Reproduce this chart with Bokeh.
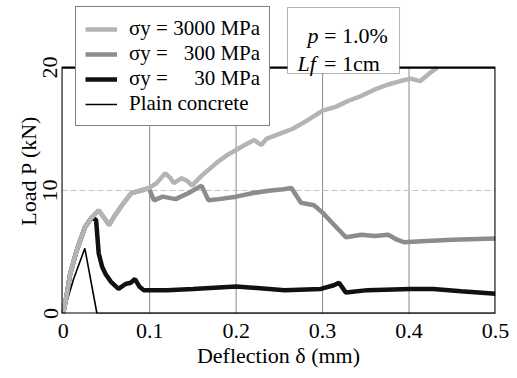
from bokeh.plotting import figure
from bokeh.models import Legend, LegendItem, Label, BoxAnnotation, FixedTicker
from bokeh.embed import file_html
from bokeh.resources import INLINE

# ---- data ----
d3000 = [0, 0.004, 0.008, 0.015, 0.025, 0.033, 0.041, 0.047, 0.053, 0.060, 0.070, 0.079, 0.090, 0.099,
         0.108, 0.118, 0.124, 0.128, 0.137, 0.143, 0.149, 0.160, 0.170, 0.180, 0.190, 0.200, 0.210,
         0.221, 0.229, 0.235, 0.250, 0.265, 0.280, 0.300, 0.315, 0.330, 0.345, 0.360, 0.375, 0.390,
         0.402, 0.413, 0.425, 0.433]
p3000 = [0, 1.5, 3.2, 5.0, 7.0, 7.8, 8.4, 7.8, 7.2, 8.0, 9.0, 9.8, 10.0, 10.2,
         10.6, 11.4, 11.0, 10.6, 11.0, 10.8, 10.4, 11.2, 11.8, 12.4, 12.9, 13.3, 13.7,
         14.1, 13.7, 14.2, 14.6, 15.0, 15.6, 16.5, 16.8, 17.3, 17.7, 18.2, 18.6, 18.9,
         19.1, 18.9, 19.6, 20.0]

d300 = [0, 0.004, 0.008, 0.015, 0.025, 0.033, 0.041, 0.047, 0.053, 0.060, 0.070, 0.079, 0.090, 0.099,
        0.105, 0.115, 0.130, 0.145, 0.160, 0.168, 0.180, 0.200, 0.220, 0.240, 0.255, 0.264, 0.275,
        0.290, 0.300, 0.312, 0.327, 0.345, 0.360, 0.376, 0.386, 0.394, 0.420, 0.450, 0.500]
p300 = [0, 1.5, 3.2, 5.0, 7.0, 7.8, 8.4, 7.8, 7.2, 8.0, 9.0, 9.8, 10.0, 10.2,
        9.2, 9.5, 9.3, 9.8, 10.4, 9.2, 9.3, 9.5, 9.8, 10.0, 10.1, 10.2, 9.0,
        8.8, 8.2, 7.3, 6.2, 6.4, 6.3, 6.4, 6.0, 5.8, 5.9, 6.0, 6.1]

d30 = [0, 0.004, 0.008, 0.015, 0.025, 0.033, 0.038, 0.041, 0.045, 0.049, 0.055, 0.064, 0.072, 0.078,
       0.083, 0.088, 0.093, 0.120, 0.150, 0.200, 0.256, 0.298, 0.313, 0.319, 0.327, 0.352, 0.402,
       0.428, 0.460, 0.500]
p30 = [0, 1.5, 3.2, 5.0, 7.0, 7.8, 7.6, 4.9, 3.8, 3.2, 2.6, 2.0, 2.4, 2.5,
       2.8, 2.2, 1.9, 1.9, 2.0, 2.2, 1.9, 2.0, 2.3, 2.5, 1.7, 1.9, 2.0,
       2.0, 1.8, 1.6]

dplain = [0, 0.012, 0.025, 0.039, 0.500]
pplain = [0, 2.8, 5.3, 0, 0]

xticks = [0, 0.1, 0.2, 0.3, 0.4, 0.5]
yticks = [0, 10, 20]
xgrid_at = [0.1, 0.2, 0.3, 0.4]
ygrid_at = [10]
XMIN, XMAX, YMIN, YMAX = -0.002, 0.5, 0, 20
labels = ["\u03c3y = 3000 MPa", "\u03c3y = \u00a0\u00a0300 MPa",
          "\u03c3y = \u00a0\u00a0\u00a0\u00a030 MPa", "Plain concrete"]

FONT = "Liberation Serif"
FS = "22px"

# the frame extends above y=20 so that the legend and the parameter box
# (which overlap the top edge of the plot box) are not clipped
p = figure(width=517, height=378, output_backend="svg", toolbar_location=None,
           x_range=(XMIN, XMAX), y_range=(0, 25.45),
           min_border_left=61, min_border_right=22, min_border_top=0, min_border_bottom=65)
p.background_fill_color = "white"
p.border_fill_color = "white"
p.outline_line_color = None
p.xgrid.visible = False
p.ygrid.visible = False

# grid lines (only inside the plot box)
p.segment(x0=xgrid_at, y0=[YMIN] * len(xgrid_at), x1=xgrid_at, y1=[YMAX] * len(xgrid_at),
          line_color="#8a8a8a", line_width=1)
p.segment(x0=[XMIN] * len(ygrid_at), y0=ygrid_at, x1=[XMAX] * len(ygrid_at), y1=ygrid_at,
          line_color="#c4c4c4", line_width=1, line_dash="6 3")

r_plain = p.line(dplain, pplain, line_color="black", line_width=1.6)
r30 = p.line(d30, p30, line_color="#111111", line_width=4.5)
r300 = p.line(d300, p300, line_color="#8c8c8c", line_width=4.5)
r3000 = p.line(d3000, p3000, line_color="#b4b4b4", line_width=4.5)

# plot box
p.quad(left=[XMIN], right=[XMAX], bottom=[YMIN], top=[YMAX], fill_color=None,
       line_color="black", line_width=2.2)

# axes
p.xaxis.ticker = FixedTicker(ticks=xticks)
p.yaxis.ticker = FixedTicker(ticks=yticks)
for ax in (p.xaxis[0], p.yaxis[0]):
    ax.axis_line_color = None
    ax.major_tick_out = 0
    ax.major_tick_in = 0
    ax.minor_tick_out = 0
    ax.minor_tick_in = 0
    ax.major_label_text_font = FONT
    ax.major_label_text_font_size = FS
    ax.major_label_text_color = "black"
    ax.axis_label_text_font = FONT
    ax.axis_label_text_font_size = FS
    ax.axis_label_text_font_style = "normal"
    ax.axis_label_text_color = "black"
p.xaxis.axis_label = "Deflection \u03b4 (mm)"
p.yaxis.axis_label = "Load P (kN)" + "\u00a0" * 5
p.xaxis.major_label_standoff = 10
p.xaxis.axis_label_standoff = 2
p.yaxis.major_label_orientation = "parallel"
p.yaxis.major_label_standoff = 4
p.yaxis.axis_label_standoff = 0

# legend
legend = Legend(items=[LegendItem(label=labels[0], renderers=[r3000]),
                       LegendItem(label=labels[1], renderers=[r300]),
                       LegendItem(label=labels[2], renderers=[r30]),
                       LegendItem(label=labels[3], renderers=[r_plain])],
                location=(14, 187), orientation="vertical",
                label_text_font=FONT, label_text_font_size="21px", label_text_color="black",
                glyph_width=32, glyph_height=20, label_height=20, spacing=0,
                label_standoff=12, padding=9, margin=0,
                border_line_color="black", border_line_width=1,
                background_fill_color="white", background_fill_alpha=1.0)
p.add_layout(legend, "center")

# parameter box
box = BoxAnnotation(left=0.2594, right=0.389, bottom=19.51, top=24.88,
                    fill_color="white", fill_alpha=1.0, line_color="black", line_width=1)
p.add_layout(box)

def lab(x, y, t, style="normal"):
    p.add_layout(Label(x=x, y=y, text=t, text_font=FONT, text_font_size=FS,
                       text_font_style=style, text_color="black",
                       text_baseline="alphabetic", text_align="left"))

lab(0.2826, 22.6, "p", "italic")
lab(0.2953, 22.6, "\u00a0= 1.0%")
lab(0.2710, 20.33, "Lf", "italic")
lab(0.2953, 20.33, "\u00a0= 1cm")

with open("out.html", "w") as f:
    f.write(file_html(p, INLINE))
